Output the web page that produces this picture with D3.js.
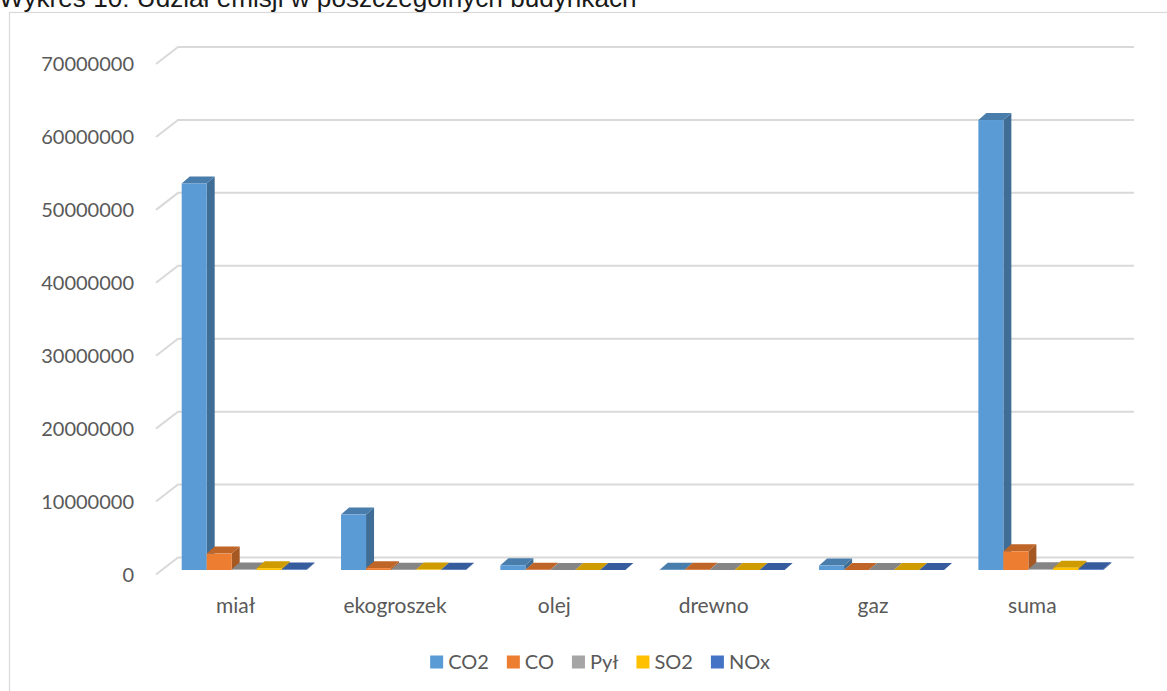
<!DOCTYPE html>
<html>
<head>
<meta charset="utf-8">
<script src="https://cdn.jsdelivr.net/npm/d3@7"></script>
<style>
  html, body { margin: 0; padding: 0; background: #fff; overflow: hidden; }
  svg { display: block; }
</style>
</head>
<body>
<svg id="chart" width="1167" height="691"></svg>
<script>
// ---- data ----
const titleText = "Wykres 10: Udział emisji w poszczególnych budynkach";
const categories = ["miał", "ekogroszek", "olej", "drewno", "gaz", "suma"];
const seriesNames = ["CO2", "CO", "Pył", "SO2", "NOx"];
const seriesColors = ["#5B9BD5", "#ED7D31", "#A5A5A5", "#FFC000", "#4472C4"];
const co2 = [53000000, 7600000, 650000, 50000, 600000, 61700000];
const co  = [2250000, 250000, 20000, 30000, 10000, 2560000];
const pyl = [60000, 20000, 1000, 5000, 500, 86500];
const so2 = [250000, 60000, 5000, 2000, 500, 317500];
const nox = [70000, 20000, 5000, 3000, 2000, 100000];
const yTicks = [0, 10000000, 20000000, 30000000, 40000000, 50000000, 60000000, 70000000];

const seriesValues = [co2, co, pyl, so2, nox];

// ---- layout ----
const svg = d3.select("#chart");
const W = 1167, H = 691;
const textColor = "#595959";
const gridColor = "#d9d9d9";
const WALL_DX = 22, WALL_DY = -17;      // full depth offset of back wall
const BAR_OFF_X = 5.7, BAR_OFF_Y = -4.5; // bar front face depth offset
const BAR_DX = 8, BAR_DY = -7;          // bar depth

const y = d3.scaleLinear().domain([0, 70000000]).range([574.5, 64]);
const x = d3.scaleBand().domain(categories).range([156, 1112]).paddingInner(0).paddingOuter(0);
const groupW = 125;
const xs = d3.scaleBand().domain(seriesNames).range([0, groupW]).padding(0);
const groupOffset = 20;

// chart border
svg.append("rect")
  .attr("x", 9.5).attr("y", 12.5)
  .attr("width", W + 20).attr("height", H + 20)
  .attr("fill", "none").attr("stroke", gridColor).attr("stroke-width", 1.2);

// title (cut off at the top edge, as in the reference)
const title = svg.append("text")
  .attr("x", -1).attr("y", 7)
  .attr("font-family", "'Liberation Sans', Arial, sans-serif")
  .attr("font-size", 24)
  .attr("fill", "#1a1a1a")
  .text(titleText);
const tw = title.node().getComputedTextLength();
title.attr("font-size", 24 * 638 / tw);

// gridlines (left wall diagonal + back wall)
const xFront0 = x.range()[0];
const xFront1 = x.range()[1];
const grid = svg.append("g");
yTicks.forEach(t => {
  const yf = y(t);
  grid.append("path")
    .attr("d", `M${xFront0},${yf} L${xFront0 + WALL_DX},${yf + WALL_DY} L${xFront1 + WALL_DX},${yf + WALL_DY}`)
    .attr("fill", "none")
    .attr("stroke", gridColor)
    .attr("stroke-width", 2);
});

// y labels
svg.append("g").selectAll("text")
  .data(yTicks)
  .join("text")
  .attr("x", 134)
  .attr("y", d => y(d))
  .attr("dy", "0.36em")
  .attr("text-anchor", "end")
  .attr("font-family", "Lato, 'Open Sans', sans-serif")
  .attr("font-size", 20)
  .attr("fill", textColor)
  .text(d => d3.format("d")(d));

// bars
const bars = svg.append("g");
categories.forEach((cat, ci) => {
  seriesNames.forEach((s, si) => {
    const v = seriesValues[si][ci];
    const base = seriesColors[si];
    const x0 = x(cat) + groupOffset + xs(s) + BAR_OFF_X;
    const x1 = x0 + xs.bandwidth();
    const yTop = y(v) + BAR_OFF_Y;
    const yBase = y(0) + BAR_OFF_Y;
    const g = bars.append("g");
    // side face
    g.append("path")
      .attr("d", `M${x1},${yTop} L${x1 + BAR_DX},${yTop + BAR_DY} L${x1 + BAR_DX},${yBase + BAR_DY} L${x1},${yBase} Z`)
      .attr("fill", d3.rgb(base).darker(1.0));
    // top face
    g.append("path")
      .attr("d", `M${x0},${yTop} L${x1},${yTop} L${x1 + BAR_DX},${yTop + BAR_DY} L${x0 + BAR_DX},${yTop + BAR_DY} Z`)
      .attr("fill", d3.rgb(base).darker(0.6));
    // front face
    g.append("rect")
      .attr("x", x0).attr("y", yTop)
      .attr("width", x1 - x0).attr("height", Math.max(0, yBase - yTop))
      .attr("fill", base);
  });
});

// category labels
svg.append("g").selectAll("text")
  .data(categories)
  .join("text")
  .attr("x", d => x(d) + x.bandwidth() / 2)
  .attr("y", 613)
  .attr("text-anchor", "middle")
  .attr("font-family", "Lato, 'Open Sans', sans-serif")
  .attr("font-size", 21)
  .attr("fill", textColor)
  .text(d => d);

// legend
const legend = svg.append("g");
let cx = 0;
seriesNames.forEach((s, i) => {
  const it = legend.append("g");
  it.append("rect").attr("x", 0).attr("y", -6.5).attr("width", 13).attr("height", 13).attr("fill", seriesColors[i]);
  const t = it.append("text")
    .attr("x", 18).attr("y", 0).attr("dy", "0.36em")
    .attr("font-family", "Lato, 'Open Sans', sans-serif")
    .attr("font-size", 20)
    .attr("fill", textColor)
    .text(s);
  const w = 18 + t.node().getComputedTextLength();
  it.attr("transform", `translate(${cx},0)`);
  cx += w + 18;
});
const totalW = cx - 18;
legend.attr("transform", `translate(${600 - totalW / 2},662)`);
</script>
</body>
</html>
